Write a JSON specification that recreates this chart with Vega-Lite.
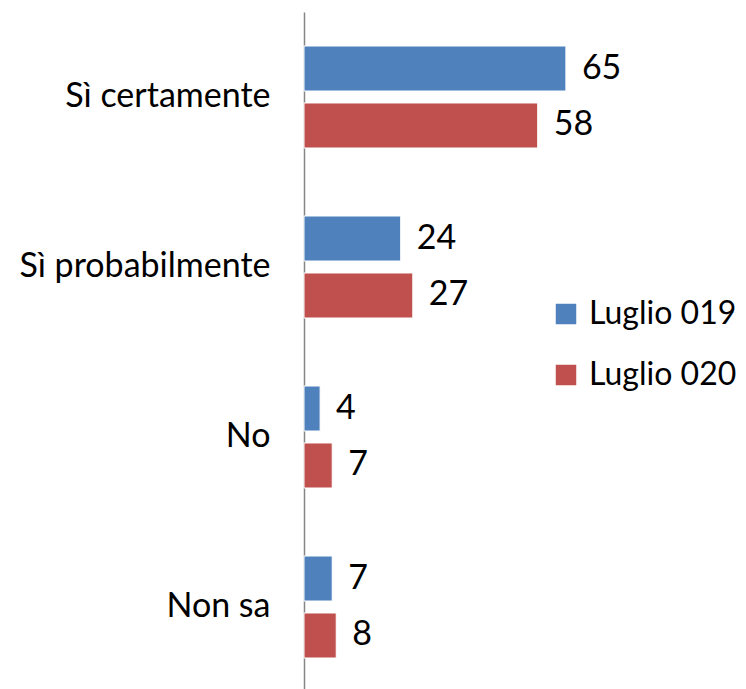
{
  "$schema": "https://vega.github.io/schema/vega-lite/v6.json",
  "width": 442,
  "height": 680,
  "autosize": "none",
  "padding": {"left": 304, "top": 12, "right": 0, "bottom": 0},
  "config": {"view": {"stroke": null}, "font": "Lato"},
  "data": {
    "values": [
      {"risposta": "Sì certamente", "periodo": "Luglio 019", "valore": 65},
      {"risposta": "Sì certamente", "periodo": "Luglio 020", "valore": 58},
      {"risposta": "Sì probabilmente", "periodo": "Luglio 019", "valore": 24},
      {"risposta": "Sì probabilmente", "periodo": "Luglio 020", "valore": 27},
      {"risposta": "No", "periodo": "Luglio 019", "valore": 4},
      {"risposta": "No", "periodo": "Luglio 020", "valore": 7},
      {"risposta": "Non sa", "periodo": "Luglio 019", "valore": 7},
      {"risposta": "Non sa", "periodo": "Luglio 020", "valore": 8}
    ]
  },
  "encoding": {
    "y": {
      "field": "risposta", "type": "nominal",
      "sort": ["Sì certamente", "Sì probabilmente", "No", "Non sa"],
      "scale": {"paddingInner": 0.4, "paddingOuter": 0.2},
      "axis": {"title": null, "ticks": false, "labelFontSize": 34, "labelColor": "#000000", "labelPadding": 34, "labelLimit": 0, "domainColor": "#868686", "domainWidth": 1.5, "labelFont": "Lato"}
    },
    "yOffset": {"field": "periodo", "type": "nominal", "scale": {"paddingInner": 0.21}},
    "x": {
      "field": "valore", "type": "quantitative",
      "scale": {"domain": [0, 109.7]},
      "axis": null
    }
  },
  "layer": [
    {
      "mark": {"type": "bar", "stroke": "#ffffff", "strokeWidth": 1},
      "encoding": {
        "color": {
          "field": "periodo", "type": "nominal",
          "scale": {"domain": ["Luglio 019", "Luglio 020"], "range": ["#4F81BD", "#C0504D"]},
          "legend": {
            "title": null, "orient": "none", "legendX": 246, "legendY": 286,
            "symbolType": "square", "symbolSize": 420, "symbolStrokeWidth": 0,
            "labelFontSize": 32, "labelColor": "#000000", "labelFont": "Lato", "labelLimit": 0,
            "rowPadding": 29, "labelOffset": 7
          }
        }
      }
    },
    {
      "mark": {"type": "text", "align": "left", "baseline": "middle", "dx": 16, "fontSize": 34, "color": "#000000", "font": "Lato"},
      "encoding": {"text": {"field": "valore", "type": "quantitative"}}
    }
  ]
}
